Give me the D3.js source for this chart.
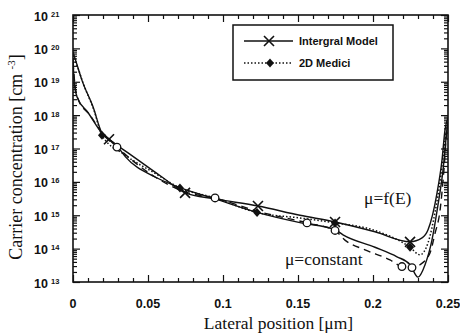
<!DOCTYPE html>
<html><head><meta charset="utf-8">
<script src="https://cdn.jsdelivr.net/npm/d3@7"></script>
<style>
body{margin:0;background:#fff;}
svg{display:block;}
</style></head>
<body>
<script>
// ---- data (x in µm, carrier concentration in cm^-3) ----
const integralFE = [[0,7.8e19],[0.0027,3.2e19],[0.006,1.1e19],[0.0133,1.8e18],[0.0193,2.9e17],[0.024,1.9e17],[0.0367,7.4e16],[0.0593,1.4e16],[0.0747,4.7e15],[0.0947,3.1e15],[0.1233,1.9e15],[0.1513,1.0e15],[0.1747,6.3e14],[0.2013,3.2e14],[0.2247,1.6e14],[0.2327,2.1e14],[0.2367,3.7e14],[0.2427,4.7e15],[0.246,4.5e16],[0.248,3.6e17],[0.25,8.3e17]];
const mediciFE = [[0,6.3e19],[0.0033,2.6e19],[0.0067,9.2e18],[0.014,1.4e18],[0.0193,2.5e17],[0.0347,6.4e16],[0.0547,1.8e16],[0.0713,6.6e15],[0.0947,3.3e15],[0.1227,1.2e15],[0.1513,8.3e14],[0.1747,5.9e14],[0.2013,3.5e14],[0.2247,1.1e14],[0.2313,6.5e13],[0.2367,1.5e14],[0.2413,1.2e15],[0.2453,1.6e16],[0.248,1.8e17],[0.25,6.3e17]];
const integralConst = [[0,5.1e19],[0.0007,1.1e19],[0.0027,3.5e18],[0.01,1.2e18],[0.0187,3.1e17],[0.0293,1.2e17],[0.035,5.6e16],[0.0547,1.4e16],[0.07,7.1e15],[0.0947,3.1e15],[0.1233,1.2e15],[0.1513,6.0e14],[0.1747,3.7e14],[0.18,2.6e14],[0.2013,1.1e14],[0.216,5.7e13],[0.2247,3.3e13],[0.23,1.4e13],[0.2347,3.3e13],[0.2393,1.8e14],[0.2433,2.0e15],[0.2467,2.3e16],[0.2493,3.6e17],[0.25,6.3e17]];
const mediciConst = [[0,3.9e19],[0.0013,8.0e18],[0.0033,3.1e18],[0.0113,1.0e18],[0.02,2.7e17],[0.0293,1.1e17],[0.0547,1.4e16],[0.0747,5.0e15],[0.0947,3.3e15],[0.1233,1.3e15],[0.156,5.9e14],[0.1747,3.5e14],[0.1813,1.8e14],[0.1947,9.2e13],[0.2113,4.6e13],[0.2193,2.9e13],[0.226,2.7e13],[0.2313,3.3e13],[0.238,7.4e13],[0.2413,2.8e14],[0.2447,1.4e15],[0.2473,2.3e16],[0.2493,3.6e17],[0.25,5.1e17]];

const crossMarkers = [[0.024,1.9e17],[0.0747,4.7e15],[0.1233,1.9e15],[0.1747,6.3e14],[0.2247,1.6e14]];
const diamondMarkers = [[0.0193,2.5e17],[0.0713,6.6e15],[0.1227,1.2e15],[0.1747,5.9e14],[0.2247,1.1e14]];
const circleMarkers = [[0.0293,1.1e17],[0.0947,3.3e15],[0.156,5.9e14],[0.1747,3.5e14],[0.2193,2.9e13],[0.226,2.7e13]];

const xTickValues = [0,0.05,0.1,0.15,0.2,0.25];
const xTickLabels = ["0","0.05","0.1","0.15","0.2","0.25"];
const yExponents = [13,14,15,16,17,18,19,20,21];
const legendLabels = ["Intergral Model","2D Medici"];
const annotations = [{text:"\u03bc=f(E)", x:0.194, y:2.2e15},{text:"\u03bc=constant", x:0.1413, y:3.2e13}];

// ---- layout ----
const W=460,H=333;
const m={l:73,r:12,t:15,b:51};
const iw=W-m.l-m.r, ih=H-m.t-m.b;

const svg=d3.select("body").append("svg").attr("width",W).attr("height",H);
const g=svg.append("g").attr("transform",`translate(${m.l},${m.t})`);

const x=d3.scaleLinear().domain([0,0.25]).range([0,iw]);
const y=d3.scaleLog().domain([1e13,1e21]).range([ih,0]);

const sans="'Liberation Sans', Arial, Helvetica, sans-serif";
const serif="'Liberation Serif', 'Times New Roman', serif";

// minor/major tick values
const xMinor=d3.range(0,26).map(i=>i/100).filter(v=>Math.round(v*100)%5!==0);
const yMajor=yExponents.map(e=>Math.pow(10,e));
const yMinor=[];
yExponents.slice(0,-1).forEach(e=>{for(let k=2;k<=9;k++)yMinor.push(k*Math.pow(10,e));});

function styleAxis(sel){
  sel.select(".domain").remove();
  sel.selectAll("line").attr("stroke","#111").attr("stroke-width",1.2);
  sel.selectAll("text").remove();
}
// bottom & top
g.append("g").attr("transform",`translate(0,${ih})`).call(d3.axisBottom(x).tickValues(xTickValues).tickSize(-7)).call(styleAxis);
g.append("g").attr("transform",`translate(0,${ih})`).call(d3.axisBottom(x).tickValues(xMinor).tickSize(-4)).call(styleAxis);
g.append("g").call(d3.axisTop(x).tickValues(xTickValues).tickSize(-7)).call(styleAxis);
g.append("g").call(d3.axisTop(x).tickValues(xMinor).tickSize(-4)).call(styleAxis);
// left & right
g.append("g").call(d3.axisLeft(y).tickValues(yMajor).tickSize(-7)).call(styleAxis);
g.append("g").call(d3.axisLeft(y).tickValues(yMinor).tickSize(-4)).call(styleAxis);
g.append("g").attr("transform",`translate(${iw},0)`).call(d3.axisRight(y).tickValues(yMajor).tickSize(-7)).call(styleAxis);
g.append("g").attr("transform",`translate(${iw},0)`).call(d3.axisRight(y).tickValues(yMinor).tickSize(-4)).call(styleAxis);

// frame
g.append("rect").attr("width",iw).attr("height",ih).attr("fill","none").attr("stroke","#111").attr("stroke-width",1.6);

// x tick labels
g.selectAll(".xl").data(xTickValues).enter().append("text")
  .attr("x",d=>x(d)).attr("y",ih+26).attr("text-anchor","middle")
  .attr("font-family",sans).attr("font-weight","bold").attr("font-size",12.5).attr("fill","#111")
  .text((d,i)=>xTickLabels[i]);

// y tick labels (10 with superscript exponent)
const yl=g.selectAll(".yl").data(yExponents).enter().append("g");
yl.append("text").attr("x",-25).attr("y",d=>y(Math.pow(10,d))+5.5).attr("text-anchor","end")
  .attr("font-family",sans).attr("font-weight","bold").attr("font-size",12.5).attr("fill","#111").text("10");
yl.append("text").attr("x",-22).attr("y",d=>y(Math.pow(10,d))+1.5)
  .attr("font-family",sans).attr("font-weight","bold").attr("font-size",7.5).attr("fill","#111").text(d=>d);

// axis titles
svg.append("text").attr("x",m.l+iw/2+18).attr("y",329).attr("text-anchor","middle")
  .attr("font-family",serif).attr("font-size",17.5).attr("fill","#111").text("Lateral position [\u03bcm]");
const yt=svg.append("text").attr("transform","translate(22,157) rotate(-90)").attr("text-anchor","middle")
  .attr("font-family",serif).attr("font-size",18).attr("fill","#111");
yt.append("tspan").text("Carrier concentration [cm ");
yt.append("tspan").attr("font-size",11).attr("dy",-7).text("-3");
yt.append("tspan").attr("dy",7).text("]");

// curves
const line=d3.line().x(d=>x(d[0])).y(d=>y(d[1])).curve(d3.curveMonotoneX);
const clip=svg.append("clipPath").attr("id","clip").append("rect").attr("width",iw).attr("height",ih);
const cg=g.append("g").attr("clip-path","url(#clip)");
cg.append("path").datum(integralConst).attr("d",line).attr("fill","none").attr("stroke","#111").attr("stroke-width",1.4);
cg.append("path").datum(mediciConst).attr("d",line).attr("fill","none").attr("stroke","#111").attr("stroke-width",1.4).attr("stroke-dasharray","7,5");
cg.append("path").datum(integralFE).attr("d",line).attr("fill","none").attr("stroke","#111").attr("stroke-width",1.4);
cg.append("path").datum(mediciFE).attr("d",line).attr("fill","none").attr("stroke","#111").attr("stroke-width",1.5).attr("stroke-dasharray","1.5,2");

// markers
const crossPath="M-5,-5L5,5M-5,5L5,-5";
const diamondPath="M0,-4.5L4,0L0,4.5L-4,0Z";
g.selectAll(".cx").data(crossMarkers).enter().append("path")
  .attr("transform",d=>`translate(${x(d[0])},${y(d[1])})`).attr("d",crossPath)
  .attr("stroke","#111").attr("stroke-width",1.6).attr("fill","none");
g.selectAll(".dm").data(diamondMarkers).enter().append("path")
  .attr("transform",d=>`translate(${x(d[0])},${y(d[1])})`).attr("d",diamondPath).attr("fill","#111");
g.selectAll(".ci").data(circleMarkers).enter().append("circle")
  .attr("cx",d=>x(d[0])).attr("cy",d=>y(d[1])).attr("r",3.8)
  .attr("fill","#fff").attr("stroke","#111").attr("stroke-width",1.3);

// annotations
g.selectAll(".an").data(annotations).enter().append("text")
  .attr("x",d=>x(d.x)).attr("y",d=>y(d.y)).attr("font-family",serif).attr("font-size",17.5).attr("fill","#111")
  .text(d=>d.text);

// legend
const lg=svg.append("g").attr("transform","translate(233,25)");
lg.append("rect").attr("width",160).attr("height",55).attr("fill","#fff").attr("stroke","#111").attr("stroke-width",1.5);
lg.append("line").attr("x1",11).attr("x2",60).attr("y1",16).attr("y2",16).attr("stroke","#111").attr("stroke-width",1.3);
lg.append("path").attr("transform","translate(36,16)").attr("d",crossPath).attr("stroke","#111").attr("stroke-width",1.6);
lg.append("line").attr("x1",11).attr("x2",60).attr("y1",38).attr("y2",38).attr("stroke","#111").attr("stroke-width",1.5).attr("stroke-dasharray","1.5,2");
lg.append("path").attr("transform","translate(37,38)").attr("d",diamondPath).attr("fill","#111");
lg.selectAll(".lt").data(legendLabels).enter().append("text")
  .attr("x",66).attr("y",(d,i)=>20+i*22).attr("font-family",sans).attr("font-weight","bold").attr("font-size",11).attr("fill","#111")
  .text(d=>d);
</script>
</body></html>
